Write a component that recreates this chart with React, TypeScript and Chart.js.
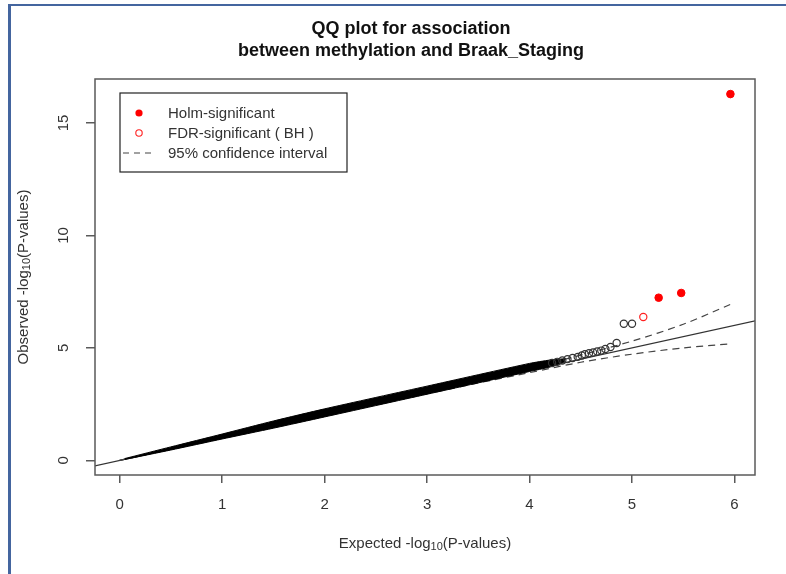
import React, { useEffect, useRef } from "react";
import { Chart, registerables } from "chart.js";

Chart.register(...registerables);

// ---- data ----
const titleLines = ["QQ plot for association", "between methylation and Braak_Staging"];
const xTicks = [0, 1, 2, 3, 4, 5, 6];
const yTicks = [0, 5, 10, 15];
const xRange = [-0.24, 6.2];
const yRange = [-0.65, 16.95];

// reference line y = x (abline)
const identityX = [-0.5, 6.5];
const identityY = [-0.5, 6.5];

// dense cloud of observed points: upper and lower edge of the black band
const cloudX = [0.05, 0.5, 1.0, 1.5, 2.0, 3.0, 4.0, 4.2, 4.35];
const cloudUpper = [0.08, 0.6, 1.17, 1.75, 2.29, 3.3, 4.31, 4.46, 4.52];
const cloudLower = [0.04, 0.46, 0.95, 1.43, 1.93, 2.94, 3.95, 4.15, 4.4];

// sparse tail of non-significant points
const tailX = [4.22, 4.27, 4.32, 4.37, 4.42, 4.47, 4.51, 4.54, 4.58, 4.62, 4.66, 4.7, 4.74, 4.79, 4.85, 4.92, 5.0];
const tailY = [4.33, 4.38, 4.44, 4.5, 4.55, 4.6, 4.66, 4.72, 4.76, 4.8, 4.84, 4.88, 4.95, 5.04, 5.22, 6.07, 6.07];

// FDR-significant (BH)
const fdrX = [5.11];
const fdrY = [6.37];

// Holm-significant
const holmX = [5.26, 5.48, 5.96];
const holmY = [7.23, 7.44, 16.28];

// 95% confidence band
const ciX = [0, 1, 2, 3, 3.5, 4.0, 4.5, 5.0, 5.5, 5.96];
const ciUpper = [0.0, 1.01, 2.02, 3.04, 3.56, 4.1, 4.68, 5.3, 6.05, 6.93];
const ciLower = [0.0, 0.99, 1.98, 2.96, 3.44, 3.9, 4.36, 4.72, 5.0, 5.18];

const legendLabels = ["Holm-significant", "FDR-significant ( BH )", "95% confidence interval"];

const FONT = "'Liberation Sans', Arial, sans-serif";
const TEXT = "#333333";
const AXIS = "#5a5a5a";

const pts = (xs: number[], ys: number[]) => xs.map((x, i) => ({ x, y: ys[i] }));

function drawLogLabel(ctx: CanvasRenderingContext2D, pre: string, sub: string, post: string, size: number) {
  ctx.font = `${size}px ${FONT}`;
  const w1 = ctx.measureText(pre).width;
  const w3 = ctx.measureText(post).width;
  ctx.font = `${Math.round(size * 0.72)}px ${FONT}`;
  const w2 = ctx.measureText(sub).width;
  const total = w1 + w2 + w3;
  let x = -total / 2;
  ctx.textAlign = "left";
  ctx.textBaseline = "alphabetic";
  ctx.font = `${size}px ${FONT}`;
  ctx.fillText(pre, x, size * 0.35);
  x += w1;
  ctx.font = `${Math.round(size * 0.72)}px ${FONT}`;
  ctx.fillText(sub, x, size * 0.35 + size * 0.12);
  x += w2;
  ctx.font = `${size}px ${FONT}`;
  ctx.fillText(post, x, size * 0.35);
}

const decorPlugin = {
  id: "decor",
  afterDatasetsDraw(chart: any) {
    const { ctx, chartArea: a } = chart;
    ctx.save();
    // plot box
    ctx.strokeStyle = AXIS;
    ctx.lineWidth = 1.5;
    ctx.strokeRect(a.left, a.top, a.right - a.left, a.bottom - a.top);

    // legend
    const lx = 120, ly = 93, lw = 227, lh = 79;
    ctx.fillStyle = "#ffffff";
    ctx.fillRect(lx, ly, lw, lh);
    ctx.strokeStyle = "#222";
    ctx.lineWidth = 1.2;
    ctx.strokeRect(lx, ly, lw, lh);
    const rows = [113, 133, 153];
    ctx.font = `15px ${FONT}`;
    ctx.textBaseline = "middle";
    ctx.textAlign = "left";
    ctx.fillStyle = TEXT;
    legendLabels.forEach((t, i) => ctx.fillText(t, 168, rows[i] + 1));
    ctx.fillStyle = "#ff0000";
    ctx.beginPath();
    ctx.arc(139, rows[0], 3.6, 0, Math.PI * 2);
    ctx.fill();
    ctx.strokeStyle = "#ff2020";
    ctx.lineWidth = 1.1;
    ctx.beginPath();
    ctx.arc(139, rows[1], 3.2, 0, Math.PI * 2);
    ctx.stroke();
    ctx.strokeStyle = "#444";
    ctx.setLineDash([6, 5]);
    ctx.beginPath();
    ctx.moveTo(123, rows[2]);
    ctx.lineTo(156, rows[2]);
    ctx.stroke();
    ctx.setLineDash([]);
    ctx.restore();
  },
  afterDraw(chart: any) {
    const { ctx, chartArea: a, scales } = chart;
    const cx = (a.left + a.right) / 2;
    const cy = (a.top + a.bottom) / 2;
    ctx.save();
    ctx.fillStyle = "#111";
    ctx.font = `bold 18px ${FONT}`;
    ctx.textAlign = "center";
    ctx.textBaseline = "middle";
    ctx.fillText(titleLines[0], 411, 29);
    ctx.fillText(titleLines[1], 411, 51);

    // y tick labels (rotated, R style)
    ctx.fillStyle = TEXT;
    ctx.font = `15px ${FONT}`;
    yTicks.forEach((v) => {
      const py = scales.y.getPixelForValue(v);
      ctx.save();
      ctx.translate(64, py);
      ctx.rotate(-Math.PI / 2);
      ctx.textAlign = "center";
      ctx.textBaseline = "middle";
      ctx.fillText(String(v), 0, 0);
      ctx.restore();
    });

    // axis titles
    ctx.save();
    ctx.translate(cx, 543);
    drawLogLabel(ctx, "Expected -log", "10", "(P-values)", 15);
    ctx.restore();
    ctx.save();
    ctx.translate(23, cy);
    ctx.rotate(-Math.PI / 2);
    drawLogLabel(ctx, "Observed -log", "10", "(P-values)", 15);
    ctx.restore();
    ctx.restore();
  },
};

export default function App() {
  const ref = useRef<HTMLCanvasElement | null>(null);
  useEffect(() => {
    if (!ref.current) return;
    const chart = new Chart(ref.current, {
      type: "scatter",
      data: {
        datasets: [
          {
            label: "Holm-significant",
            data: pts(holmX, holmY),
            pointRadius: 3.8,
            pointBackgroundColor: "#ff0000",
            pointBorderColor: "#ff0000",
            pointBorderWidth: 1,
            showLine: false,
            order: 1,
          },
          {
            label: "FDR-significant ( BH )",
            data: pts(fdrX, fdrY),
            pointRadius: 3.6,
            pointBackgroundColor: "rgba(0,0,0,0)",
            pointBorderColor: "#ff2020",
            pointBorderWidth: 1.2,
            showLine: false,
            order: 2,
          },
          {
            label: "tail",
            data: pts(tailX, tailY),
            pointRadius: 3.6,
            pointBackgroundColor: "rgba(0,0,0,0)",
            pointBorderColor: "#333",
            pointBorderWidth: 1.2,
            showLine: false,
            order: 3,
          },
          {
            label: "cloud upper",
            type: "line",
            data: pts(cloudX, cloudUpper),
            borderColor: "#000",
            borderWidth: 1,
            pointRadius: 0,
            tension: 0.2,
            fill: false,
            order: 4,
          },
          {
            label: "cloud lower",
            type: "line",
            data: pts(cloudX, cloudLower),
            borderColor: "#000",
            backgroundColor: "#000",
            borderWidth: 1,
            pointRadius: 0,
            tension: 0.2,
            fill: "-1",
            order: 4,
          },
          {
            label: "upper",
            type: "line",
            data: pts(ciX, ciUpper),
            borderColor: "#444",
            borderWidth: 1.2,
            borderDash: [7, 5],
            pointRadius: 0,
            tension: 0.3,
            fill: false,
            order: 5,
          },
          {
            label: "lower",
            type: "line",
            data: pts(ciX, ciLower),
            borderColor: "#444",
            borderWidth: 1.2,
            borderDash: [7, 5],
            pointRadius: 0,
            tension: 0.3,
            fill: false,
            order: 5,
          },
          {
            label: "identity",
            type: "line",
            data: pts(identityX, identityY),
            borderColor: "#333",
            borderWidth: 1.2,
            pointRadius: 0,
            fill: false,
            order: 6,
          },
        ] as any,
      },
      options: {
        animation: false,
        responsive: false,
        maintainAspectRatio: false,
        layout: { padding: { left: 0, right: 31, top: 79, bottom: 0 } },
        plugins: {
          legend: { display: false },
          title: { display: false },
          tooltip: { enabled: false },
          filler: { drawTime: "beforeDatasetDraw" },
        } as any,
        scales: {
          x: {
            type: "linear",
            min: xRange[0],
            max: xRange[1],
            afterBuildTicks: (s: any) => {
              s.ticks = xTicks.map((v) => ({ value: v }));
            },
            afterFit: (s: any) => {
              s.height = 99;
            },
            border: { display: false },
            grid: {
              display: true,
              drawOnChartArea: false,
              drawTicks: true,
              tickLength: 8,
              color: AXIS,
              lineWidth: 1.5,
            },
            ticks: {
              color: TEXT,
              font: { family: FONT, size: 15 },
              padding: 13,
              maxRotation: 0,
              autoSkip: false,
              callback: (v: any) => String(v),
            },
          },
          y: {
            type: "linear",
            min: yRange[0],
            max: yRange[1],
            afterBuildTicks: (s: any) => {
              s.ticks = yTicks.map((v) => ({ value: v }));
            },
            afterFit: (s: any) => {
              s.width = 95;
            },
            border: { display: false },
            grid: {
              display: true,
              drawOnChartArea: false,
              drawTicks: true,
              tickLength: 9,
              color: AXIS,
              lineWidth: 1.5,
            },
            ticks: { display: false },
          },
        },
      },
      plugins: [decorPlugin],
    });
    return () => chart.destroy();
  }, []);

  return (
    <div
      style={{
        position: "fixed",
        left: 0,
        top: 0,
        width: 786,
        height: 574,
        background: "#ffffff",
        overflow: "hidden",
      }}
    >
      <div
        style={{
          position: "absolute",
          left: 8,
          top: 4,
          width: 786,
          height: 580,
          borderLeft: "3px solid #44659f",
          borderTop: "2px solid #44659f",
          boxSizing: "border-box",
        }}
      />
      <canvas
        ref={ref}
        width={786}
        height={574}
        style={{ position: "absolute", left: 0, top: 0, width: 786, height: 574 }}
      />
    </div>
  );
}
